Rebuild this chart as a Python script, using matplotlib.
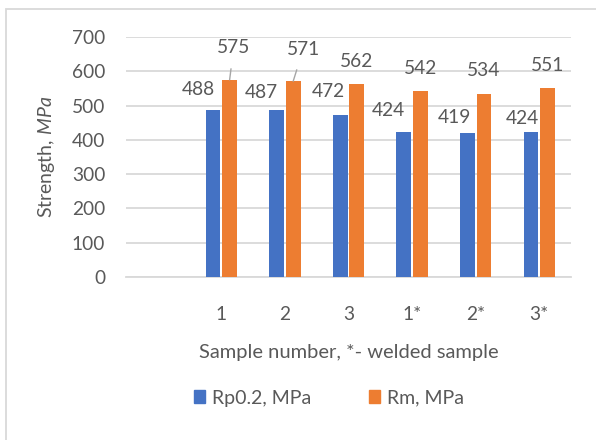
import matplotlib
matplotlib.use("Agg")
import matplotlib.pyplot as plt
from matplotlib.patches import Rectangle, Patch
import numpy as np

categories = ["", "1", "2", "3", "1*", "2*", "3*"]
rp02 = [None, 488, 487, 472, 424, 419, 424]
rm = [None, 575, 571, 562, 542, 534, 551]
series_names = ["Rp0.2, MPa", "Rm, MPa"]

# label offsets (pixels) relative to bar top centre
rp_off = [None, (-15, 20), (-15, 18), (-12, 24), (-15, 21), (-13, 16), (-9, 13)]
rm_off = [None, (4, 32), (10, 32), (0, 23), (0, 23), (0, 23), (0, 23)]
rm_leader = [None, True, True, False, False, False, False]

BLUE = "#4472C4"
ORANGE = "#ED7D31"
TXT = "#595959"
GRID = "#d9d9d9"

plt.rcParams['font.family'] = ['Lato', 'DejaVu Sans']
plt.rcParams['mathtext.fontset'] = 'custom'
plt.rcParams['mathtext.rm'] = 'Lato'
plt.rcParams['mathtext.it'] = 'Lato:italic'

W, H = 596, 440
fig = plt.figure(figsize=(W / 100, H / 100), dpi=100)
fig.patches.append(Rectangle((6 / W, -0.1), 1.2, 1 - 9 / H + 0.1, transform=fig.transFigure,
                             fill=False, edgecolor=GRID, linewidth=1.3))

ax = fig.add_axes([126 / W, 1 - 277 / H, 445 / W, 240 / H])
x = np.arange(len(categories))
bw = 0.23
gap = 0.03
pos_rp = x - (bw + gap) / 2
pos_rm = x + (bw + gap) / 2

vals_rp = [v if v is not None else 0 for v in rp02]
vals_rm = [v if v is not None else 0 for v in rm]
ax.bar(pos_rp, vals_rp, bw, color=BLUE, zorder=3)
ax.bar(pos_rm, vals_rm, bw, color=ORANGE, zorder=3)

FS = 13.8
px2pt = 0.72
for i in range(len(categories)):
    if rp02[i] is not None:
        dx, dy = rp_off[i]
        ax.annotate(str(rp02[i]), (pos_rp[i], rp02[i]), xytext=(dx * px2pt, dy * px2pt),
                    textcoords="offset points", ha="center", va="center",
                    fontsize=FS, color=TXT)
    if rm[i] is not None:
        dx, dy = rm_off[i]
        ap = None
        if rm_leader[i]:
            ap = dict(arrowstyle="-", color="#a6a6a6", lw=1, shrinkA=7, shrinkB=0)
        ax.annotate(str(rm[i]), (pos_rm[i], rm[i]), xytext=(dx * px2pt, dy * px2pt),
                    textcoords="offset points", ha="center", va="center",
                    fontsize=FS, color=TXT, arrowprops=ap)

ax.set_xlim(-0.5, len(categories) - 0.5)
ax.set_ylim(0, 700)
ax.set_yticks(np.arange(0, 701, 100))
ax.set_xticks(x)
ax.set_xticklabels(categories)
ax.yaxis.grid(True, color=GRID, linewidth=1.3, zorder=0)
ax.set_axisbelow(True)
for s in ["top", "right", "left"]:
    ax.spines[s].set_visible(False)
ax.spines["bottom"].set_color(GRID)
ax.spines["bottom"].set_linewidth(1.3)
ax.tick_params(axis="both", length=0, colors=TXT, labelsize=FS)
ax.tick_params(axis="y", pad=15)
ax.tick_params(axis="x", pad=21)

ax.set_xlabel("Sample number, *- welded sample", fontsize=14.5, color=TXT, labelpad=15)
ax.set_ylabel(r"Strength, $\mathit{MPa}$", fontsize=14, color=TXT, labelpad=11)

handles = [Patch(color=BLUE), Patch(color=ORANGE)]
fig.legend(handles, series_names, loc="center", bbox_to_anchor=(329 / W, 1 - 398 / H),
           ncol=2, frameon=False, fontsize=14, labelcolor=TXT,
           handlelength=0.55, handleheight=0.6, handletextpad=0.35, columnspacing=3.0)

fig.savefig("out.png", dpi=100)
